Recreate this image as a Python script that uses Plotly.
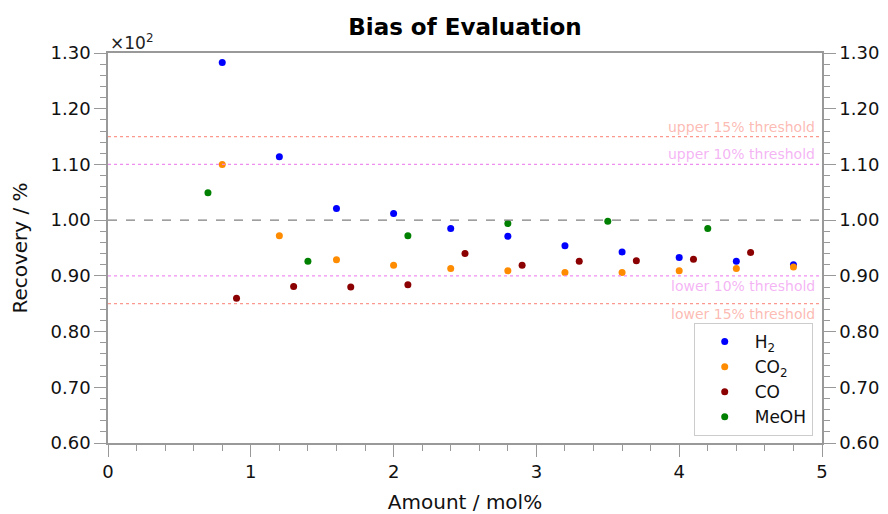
import plotly.graph_objects as go

# Data (values in units of x10^2 %)
h2_x = [0.8, 1.2, 1.6, 2.0, 2.4, 2.8, 3.2, 3.6, 4.0, 4.4, 4.8]
h2_y = [1.283, 1.114, 1.021, 1.012, 0.985, 0.971, 0.954, 0.943, 0.933, 0.926, 0.920]
co2_x = [0.8, 1.2, 1.6, 2.0, 2.4, 2.8, 3.2, 3.6, 4.0, 4.4, 4.8]
co2_y = [1.100, 0.972, 0.929, 0.919, 0.913, 0.909, 0.906, 0.906, 0.909, 0.913, 0.916]
co_x = [0.9, 1.3, 1.7, 2.1, 2.5, 2.9, 3.3, 3.7, 4.1, 4.5]
co_y = [0.860, 0.881, 0.880, 0.884, 0.940, 0.919, 0.926, 0.927, 0.930, 0.942]
meoh_x = [0.7, 1.4, 2.1, 2.8, 3.5, 4.2]
meoh_y = [1.049, 0.926, 0.972, 0.994, 0.998, 0.985]

series = [
    ("H<sub>2</sub>", h2_x, h2_y, "#0000ff"),
    ("CO<sub>2</sub>", co2_x, co2_y, "#ff8c00"),
    ("CO", co_x, co_y, "#8b0000"),
    ("MeOH", meoh_x, meoh_y, "#008000"),
]

thresholds = [
    (1.15, "upper 15% threshold", "rgba(250,128,114,0.8)", "rgba(250,128,114,0.55)"),
    (1.10, "upper 10% threshold", "rgba(238,130,238,0.9)", "rgba(238,130,238,0.6)"),
    (0.90, "lower 10% threshold", "rgba(238,130,238,0.9)", "rgba(238,130,238,0.6)"),
    (0.85, "lower 15% threshold", "rgba(250,128,114,0.8)", "rgba(250,128,114,0.55)"),
]

FONT = "DejaVu Sans"
fig = go.Figure()
for name, xs, ys, c in series:
    fig.add_trace(go.Scatter(x=xs, y=ys, mode="markers", name=name, legendgroup=name,
                             marker=dict(color=c, size=7)))
# invisible trace for right axis
fig.add_trace(go.Scatter(x=[0], y=[1.0], yaxis="y2", mode="markers",
                         marker=dict(opacity=0), showlegend=False, hoverinfo="skip"))

fig.add_shape(type="line", xref="paper", x0=0, x1=1, yref="y", y0=1.0, y1=1.0,
              line=dict(color="gray", width=1.2, dash="dash"))
for yv, label, lc, tc in thresholds:
    fig.add_shape(type="line", xref="paper", x0=0, x1=1, yref="y", y0=yv, y1=yv,
                  line=dict(color=lc, width=1.2, dash="dot"))
    fig.add_annotation(x=0.993, xref="paper", y=yv, yref="y", text=label,
                       showarrow=False, xanchor="right",
                       yanchor="bottom" if yv > 1 else "top", yshift=0,
                       font=dict(family=FONT, size=14, color=tc))

fig.add_annotation(x=0, xref="paper", y=1, yref="paper", text="×10<sup>2</sup>",
                   showarrow=False, xanchor="left", yanchor="bottom", yshift=-2,
                   font=dict(family=FONT, size=17, color="#222"))

axis_common = dict(showline=True, linecolor="#999", linewidth=1.5, ticks="outside",
                   tickcolor="#999", tickwidth=1.2, showgrid=False, zeroline=False,
                   automargin=False,
                   tickfont=dict(family=FONT, size=18, color="#111"))

fig.update_layout(
    width=888, height=514,
    margin=dict(l=108, r=66, t=53, b=71),
    paper_bgcolor="white", plot_bgcolor="white",
    title=dict(text="<b>Bias of Evaluation</b>", x=0.5, xref="paper", y=0.947,
               yanchor="middle", font=dict(family=FONT, size=23, color="black")),
    xaxis=dict(range=[0, 5], dtick=1, ticklen=12, mirror=True,
               minor=dict(dtick=0.2, ticks="outside", ticklen=6, tickcolor="#999"),
               title=dict(text="Amount / mol%", font=dict(family=FONT, size=20, color="#111"),
                          standoff=16),
               **axis_common),
    yaxis=dict(range=[0.6, 1.3], dtick=0.1, tickformat=".2f", ticklen=12,
               minor=dict(dtick=0.02, ticks="outside", ticklen=6, tickcolor="#999"),
               title=dict(text="Recovery / %", font=dict(family=FONT, size=20, color="#111"),
                          standoff=18),
               **axis_common),
    yaxis2=dict(range=[0.6, 1.3], dtick=0.1, tickformat=".2f", ticklen=12, side="right",
                overlaying="y",
                minor=dict(dtick=0.02, ticks="outside", ticklen=6, tickcolor="#999"),
                **axis_common),
    legend=dict(x=0.987, y=0.018, xanchor="right", yanchor="bottom",
                bordercolor="#ccc", borderwidth=1, bgcolor="white",
                font=dict(family=FONT, size=17, color="#111"), itemwidth=50,
                tracegroupgap=0),
    showlegend=True,
)

fig.write_html("out.html")
